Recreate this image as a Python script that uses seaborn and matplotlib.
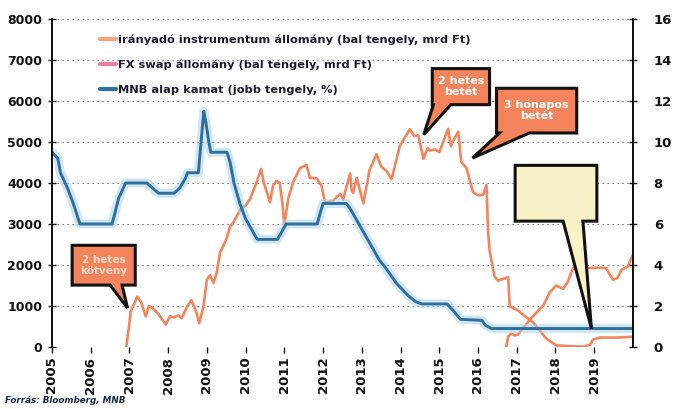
import numpy as np
import pandas as pd
import matplotlib
matplotlib.use("Agg")
import matplotlib.pyplot as plt
from matplotlib.lines import Line2D
from matplotlib.patches import Polygon
import seaborn as sns

# ---------------- data ----------------
iranyado_year = [2006.92, 2007.00, 2007.03, 2007.12, 2007.20, 2007.30, 2007.42, 2007.50, 2007.60, 2007.75,
                 2007.94, 2008.05, 2008.14, 2008.27, 2008.35, 2008.48, 2008.60, 2008.74, 2008.80, 2008.91,
                 2009.00, 2009.08, 2009.17, 2009.25, 2009.34, 2009.50, 2009.60, 2009.68, 2009.86, 2010.00,
                 2010.11, 2010.28, 2010.40, 2010.47, 2010.55, 2010.63, 2010.71, 2010.80, 2010.88, 2010.95,
                 2011.00, 2011.10, 2011.23, 2011.40, 2011.57, 2011.66, 2011.83, 2011.96, 2012.05, 2012.26,
                 2012.44, 2012.52, 2012.60, 2012.70, 2012.74, 2012.78, 2012.87, 2013.04, 2013.20, 2013.38,
                 2013.50, 2013.64, 2013.77, 2013.98, 2014.24, 2014.35, 2014.46, 2014.59, 2014.70, 2014.76,
                 2014.90, 2015.00, 2015.23, 2015.30, 2015.40, 2015.49, 2015.57, 2015.70, 2015.87, 2016.00,
                 2016.13, 2016.22, 2016.26, 2016.30, 2016.43, 2016.52, 2016.78, 2016.82, 2017.00, 2017.42,
                 2017.77, 2018.02, 2018.40, 2018.75, 2018.90, 2018.97, 2019.14, 2019.60, 2020.00]
iranyado_value = [0, 600, 860, 1050, 1230, 1100, 750, 1000, 950, 800,
                  550, 750, 720, 770, 700, 970, 1140, 815, 580, 980,
                  1640, 1750, 1560, 1800, 2300, 2620, 2940, 3030, 3350, 3450,
                  3600, 4010, 4340, 4000, 3770, 3530, 3940, 4050, 4000, 3500,
                  2970, 3620, 4030, 4360, 4440, 4120, 4120, 3930, 3520, 3570,
                  3740, 3600, 3900, 4230, 3800, 3760, 4130, 3500, 4320, 4700,
                  4400, 4290, 4090, 4900, 5310, 5150, 5160, 4590, 4850, 4790,
                  4820, 4750, 5320, 4900, 5100, 5250, 4510, 4370, 3780, 3700,
                  3710, 3950, 2830, 2350, 1710, 1620, 1700, 990, 910, 600,
                  200, 40, 20, 10, 60, 180, 230, 230, 250]

fxswap_year = [2016.73, 2016.78, 2016.86, 2016.95, 2017.03, 2017.15, 2017.30, 2017.43, 2017.55, 2017.68,
               2017.85, 2018.02, 2018.20, 2018.32, 2018.45, 2018.54, 2019.00, 2019.31, 2019.40, 2019.49,
               2019.60, 2019.70, 2019.87, 2020.00]
fxswap_value = [0, 260, 330, 280, 300, 450, 620, 760, 880, 1000,
                1330, 1500, 1420, 1590, 1920, 1920, 1930, 1930, 1770, 1640,
                1680, 1880, 1960, 2250]

rate_year = [2005.00, 2005.15, 2005.22, 2005.40, 2005.55, 2005.72, 2006.55, 2006.62, 2006.72, 2006.90,
             2007.45, 2007.60, 2007.75, 2008.15, 2008.30, 2008.45, 2008.50, 2008.78, 2008.85, 2008.92,
             2008.97, 2009.05, 2009.10, 2009.52, 2009.60, 2009.70, 2009.85, 2010.00, 2010.15, 2010.30,
             2010.82, 2010.90, 2010.97, 2011.05, 2011.85, 2011.92, 2012.00, 2012.60, 2012.70, 2012.85,
             2013.00, 2013.15, 2013.30, 2013.45, 2013.60, 2013.75, 2013.90, 2014.05, 2014.20, 2014.40,
             2014.55, 2015.20, 2015.35, 2015.55, 2016.10, 2016.20, 2016.35, 2020.00]
rate_value = [9.5, 9.2, 8.5, 7.75, 7.0, 6.0, 6.0, 6.5, 7.25, 8.0,
              8.0, 7.75, 7.5, 7.5, 7.75, 8.25, 8.5, 8.5, 10.0, 11.5,
              11.0, 10.0, 9.5, 9.5, 9.0, 8.0, 7.0, 6.25, 5.75, 5.25,
              5.25, 5.5, 5.75, 6.0, 6.0, 6.5, 7.0, 7.0, 6.75, 6.25,
              5.75, 5.25, 4.75, 4.25, 3.9, 3.5, 3.1, 2.8, 2.5, 2.2,
              2.1, 2.1, 1.8, 1.35, 1.3, 1.05, 0.9, 0.9]

year_ticks = list(range(2005, 2020))
left_ticks = [0, 1000, 2000, 3000, 4000, 5000, 6000, 7000, 8000]
right_ticks = [0, 2, 4, 6, 8, 10, 12, 14, 16]

legend_labels = ["irányadó instrumentum állomány (bal tengely, mrd Ft)",
                 "FX swap állomány (bal tengely, mrd Ft)",
                 "MNB alap kamat (jobb tengely, %)"]
source_text = "Forrás: Bloomberg, MNB"

# ---------------- style ----------------
sns.set_style("white")
plt.rcParams["font.family"] = ["DejaVu Sans"]

ORANGE = "#f4845c"
PINK = "#ec7ea0"
BLUE = "#2f6f9a"
GLOW = "#a9d3ee"
DARK = "#111111"

fig = plt.figure(figsize=(6.77, 4.09), dpi=100)
ax = fig.add_axes([0.0768, 0.1516, 0.858, 0.802])
ax2 = ax.twinx()

df_ir = pd.DataFrame({"year": iranyado_year, "value": iranyado_value})
df_fx = pd.DataFrame({"year": fxswap_year, "value": fxswap_value})
df_rt = pd.DataFrame({"year": rate_year, "rate": rate_value})

sns.lineplot(data=df_ir, x="year", y="value", ax=ax, color=ORANGE, lw=1.9, estimator=None, sort=False)
sns.lineplot(data=df_fx, x="year", y="value", ax=ax, color=ORANGE, lw=1.9, estimator=None, sort=False)
sns.lineplot(data=df_rt, x="year", y="rate", ax=ax2, color=GLOW, lw=6.5, alpha=0.55, estimator=None, sort=False)
sns.lineplot(data=df_rt, x="year", y="rate", ax=ax2, color=BLUE, lw=2.1, estimator=None, sort=False)

ax.set_xlim(2005, 2020)
ax.set_ylim(0, 8000)
ax2.set_ylim(0, 16)
ax.set_xlabel("")
ax.set_ylabel("")
ax2.set_ylabel("")

ax.set_xticks(year_ticks)
ax.set_xticklabels([str(y) for y in year_ticks], rotation=90, fontsize=9.5, fontweight="bold", color=DARK)
ax.set_yticks(left_ticks)
ax.set_yticklabels([str(v) for v in left_ticks], fontsize=9, fontweight="bold", color=DARK)
ax2.set_yticks(right_ticks)
ax2.set_yticklabels([str(v) for v in right_ticks], fontsize=9.5, fontweight="bold", color=DARK)

ax.grid(False)
ax2.grid(False)
for v in left_ticks:
    ax.axhline(v, color="#444444", lw=0.6, ls=(0, (1.5, 4.5)), zorder=0.5)

for a in (ax, ax2):
    a.spines["top"].set_visible(False)
    a.spines["bottom"].set_visible(False)
    a.spines["left"].set_color(DARK)
    a.spines["right"].set_color(DARK)
    a.spines["left"].set_linewidth(1.4)
    a.spines["right"].set_linewidth(1.4)
ax.tick_params(axis="y", direction="inout", length=6, width=1, color=DARK, pad=4)
ax2.tick_params(axis="y", direction="inout", length=6, width=1, color=DARK, pad=12)
ax.tick_params(axis="x", direction="out", length=4, width=1, color=DARK, pad=3, bottom=True)

# ---------------- speech bubbles ----------------
def bubble(x0, x1, y0, y1, tb0, tb1, tip, fc, text=None, tcolor="white", fs=8.5):
    pts = [(x0, y1), (x1, y1), (x1, y0), (tb1, y0), tip, (tb0, y0), (x0, y0)]
    poly = Polygon(pts, closed=True, facecolor=fc, edgecolor=DARK, lw=2.2,
                   transform=ax.transData, zorder=10, clip_on=False, joinstyle="miter")
    ax2.add_patch(poly)
    if text:
        ax2.text((x0 + x1) / 2, (y0 + y1) / 2, text, transform=ax.transData, ha="center", va="center",
                 color=tcolor, fontsize=fs, fontweight="bold", zorder=11, linespacing=1.1)

bubble(2014.82, 2016.30, 5910, 6790, 2014.85, 2015.30, (2014.60, 5180), ORANGE, "2 hetes\nbetét", fs=8)
bubble(2016.48, 2018.55, 5220, 6310, 2016.56, 2017.33, (2015.86, 4610), ORANGE, "3 hónapos\nbetét", fs=8)
bubble(2016.96, 2019.07, 3070, 4430, 2018.20, 2018.71, (2018.93, 450), "#f8f2c6")
bubble(2005.52, 2007.15, 1510, 2480, 2006.50, 2006.81, (2006.95, 950), ORANGE, "2 hetes\nkötvény",
       tcolor="#fbd9c9", fs=7.5)

# ---------------- legend ----------------
handles = [Line2D([0], [0], color="#f7a283", lw=3),
           Line2D([0], [0], color=PINK, lw=3),
           Line2D([0], [0], color=BLUE, lw=3)]
leg = ax2.legend(handles, legend_labels, loc="upper left", bbox_to_anchor=(0.065, 0.985), frameon=False,
                 handlelength=1.4, handletextpad=0.15, labelspacing=1.3,
                 prop={"size": 8.2, "weight": "bold"})
for t in leg.get_texts():
    t.set_color("#1b1b2b")
leg.set_zorder(12)

fig.text(0.007, 0.015, source_text, fontsize=6.3, style="italic", fontweight="bold", color="#1a2540")

fig.savefig("out.png", dpi=100, facecolor="white")
